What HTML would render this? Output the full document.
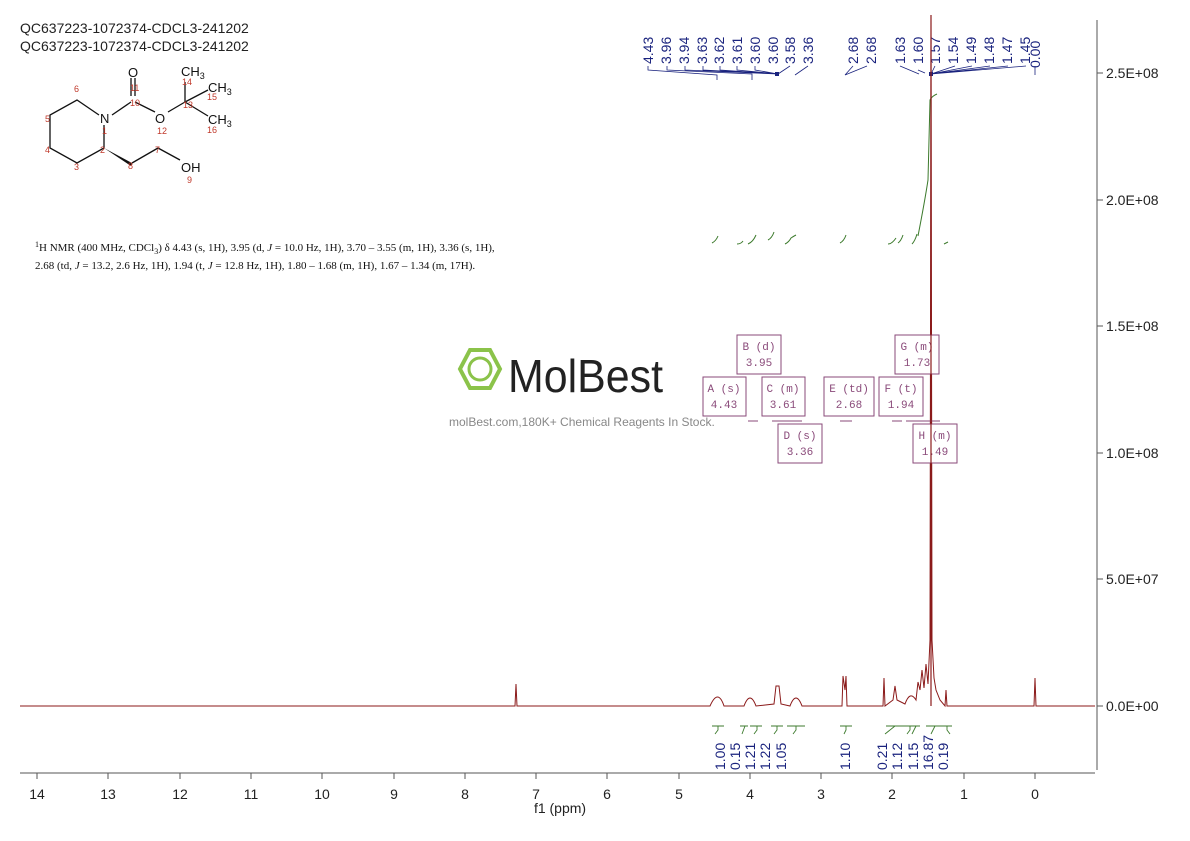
<!DOCTYPE html>
<html><head><meta charset="utf-8"><style>
body{margin:0;background:#fff;}
svg{display:block;font-family:"Liberation Sans",sans-serif;}
.bx{fill:#fff;stroke:#8a4a7a;stroke-width:1}
.bt{font-family:"Liberation Mono",monospace;font-size:11px;fill:#8a4a7a;text-anchor:middle}
.pl{font-size:14px;fill:#1a237e}
.il{font-size:14px;fill:#1a237e}
</style></head><body>
<svg width="1190" height="841" viewBox="0 0 1190 841">
<text x="20" y="33" font-size="14" fill="#222">QC637223-1072374-CDCL3-241202</text>
<text x="20" y="51" font-size="14" fill="#222">QC637223-1072374-CDCL3-241202</text>
<!-- molecule -->
<g stroke="#111" stroke-width="1.3" fill="none">
<polyline points="99,115 77,100 50,115 50,148 77,163 104,148 104,125"/>
<line x1="112" y1="115" x2="131" y2="102"/>
<line x1="131" y1="78" x2="131" y2="96"/><line x1="135" y1="78" x2="135" y2="96"/>
<line x1="135" y1="102" x2="155" y2="112"/>
<line x1="168" y1="112" x2="185" y2="102"/>
<line x1="185" y1="102" x2="185" y2="82"/>
<line x1="185" y1="102" x2="208" y2="90"/>
<line x1="185" y1="102" x2="208" y2="116"/>
<line x1="132" y1="163" x2="158" y2="148"/><line x1="158" y1="148" x2="180" y2="160"/>
</g>
<polygon points="104,148 132,163 131,166" fill="#111"/>
<g font-size="13" fill="#111">
<text x="100" y="123">N</text><text x="128" y="77">O</text><text x="155" y="123">O</text>
<text x="181" y="172">OH</text><text x="181" y="76">CH<tspan font-size="9" dy="3">3</tspan></text>
<text x="208" y="92">CH<tspan font-size="9" dy="3">3</tspan></text><text x="208" y="124">CH<tspan font-size="9" dy="3">3</tspan></text>
</g>
<g font-size="9" fill="#c0392b">
<text x="74" y="92">6</text><text x="45" y="122">5</text><text x="45" y="153">4</text><text x="74" y="170">3</text>
<text x="100" y="153">2</text><text x="102" y="134">1</text><text x="128" y="169">8</text><text x="155" y="153">7</text>
<text x="187" y="183">9</text><text x="130" y="91">11</text><text x="130" y="106">10</text><text x="157" y="134">12</text>
<text x="183" y="108">13</text><text x="182" y="85">14</text><text x="207" y="100">15</text><text x="207" y="133">16</text>
</g>
<text x="35" y="251" font-family="Liberation Serif" font-size="11" fill="#111"><tspan font-size="8" dy="-4">1</tspan><tspan dy="4">H NMR (400 MHz, CDCl</tspan><tspan font-size="8" dy="3">3</tspan><tspan dy="-3">) δ 4.43 (s, 1H), 3.95 (d, </tspan><tspan font-style="italic">J</tspan> = 10.0 Hz, 1H), 3.70 – 3.55 (m, 1H), 3.36 (s, 1H),</text>
<text x="35" y="269" font-family="Liberation Serif" font-size="11" fill="#111">2.68 (td, <tspan font-style="italic">J</tspan> = 13.2, 2.6 Hz, 1H), 1.94 (t, <tspan font-style="italic">J</tspan> = 12.8 Hz, 1H), 1.80 – 1.68 (m, 1H), 1.67 – 1.34 (m, 17H).</text>
<!-- watermark -->
<g stroke="#8bc34a" stroke-width="4" fill="none"><polygon points="470,350 490,350 500,369 490,388 470,388 460,369"/><circle cx="480" cy="369" r="11" stroke-width="3"/></g>
<text x="508" y="392" font-size="46" fill="#222" textLength="155" lengthAdjust="spacingAndGlyphs">MolBest</text>
<text x="449" y="426" font-size="12" fill="#888">molBest.com,180K+ Chemical Reagents In Stock.</text>
<!-- axes -->
<line x1="1097" y1="20" x2="1097" y2="770" stroke="#555"/>
<g stroke="#555"><line x1="1097" y1="73" x2="1103" y2="73"/><line x1="1097" y1="200" x2="1103" y2="200"/><line x1="1097" y1="326" x2="1103" y2="326"/><line x1="1097" y1="453" x2="1103" y2="453"/><line x1="1097" y1="579" x2="1103" y2="579"/><line x1="1097" y1="706" x2="1103" y2="706"/></g>
<g font-size="14" fill="#222"><text x="1106" y="78">2.5E+08</text><text x="1106" y="205">2.0E+08</text><text x="1106" y="331">1.5E+08</text><text x="1106" y="458">1.0E+08</text><text x="1106" y="584">5.0E+07</text><text x="1106" y="711">0.0E+00</text></g>
<line x1="20" y1="773" x2="1095" y2="773" stroke="#555"/>
<g font-size="14" fill="#222" text-anchor="middle">
<text x="37" y="799">14</text><text x="108" y="799">13</text><text x="180" y="799">12</text><text x="251" y="799">11</text><text x="322" y="799">10</text><text x="394" y="799">9</text><text x="465" y="799">8</text><text x="536" y="799">7</text><text x="607" y="799">6</text><text x="679" y="799">5</text><text x="750" y="799">4</text><text x="821" y="799">3</text><text x="892" y="799">2</text><text x="964" y="799">1</text><text x="1035" y="799">0</text>
<text x="560" y="813">f1 (ppm)</text></g>
<g stroke="#555"><line x1="37" y1="773" x2="37" y2="779"/><line x1="108" y1="773" x2="108" y2="779"/><line x1="180" y1="773" x2="180" y2="779"/><line x1="251" y1="773" x2="251" y2="779"/><line x1="322" y1="773" x2="322" y2="779"/><line x1="394" y1="773" x2="394" y2="779"/><line x1="465" y1="773" x2="465" y2="779"/><line x1="536" y1="773" x2="536" y2="779"/><line x1="607" y1="773" x2="607" y2="779"/><line x1="679" y1="773" x2="679" y2="779"/><line x1="750" y1="773" x2="750" y2="779"/><line x1="821" y1="773" x2="821" y2="779"/><line x1="892" y1="773" x2="892" y2="779"/><line x1="964" y1="773" x2="964" y2="779"/><line x1="1035" y1="773" x2="1035" y2="779"/></g>
<!-- spectrum -->
<path d="M20,706 L515,706 L516,684 L517,706 L710,706 Q718,688 724,706 L744,706 Q750,690 756,706 L774,704 L776,686 L779,686 L781,704 L790,706 Q796,690 802,706 L842,706 L843,676 L845,690 L846,676 L847,706 L883,706 L884,678 L885,706 L893,700 L895,686 L897,700 L905,704 Q910,690 916,700 L918,682 L920,690 L922,670 L924,688 L926,664 L928,684 L930,640 L931,20 L932,640 L934,678 L936,690 L940,700 L945,706 L946,690 L947,706 L1034,706 L1035,678 L1036,706 L1095,706" fill="none" stroke="#8b1a1a" stroke-width="1"/>
<!-- integrals top curves -->
<g stroke="#3c7a2c" fill="none" stroke-width="1">
<path d="M712,243 q4,-2 6,-7"/><path d="M737,244 q4,0 6,-3"/><path d="M748,244 q5,-2 8,-9"/><path d="M768,240 q4,-2 6,-8"/><path d="M785,244 q4,-2 6,-6 q3,-2 5,-3"/><path d="M840,243 q4,-2 6,-8"/><path d="M888,244 q4,0 8,-6"/><path d="M898,243 q3,-2 5,-8"/><path d="M912,244 q3,-3 5,-10"/><path d="M918,236 Q925,200 928,180 L930,100 Q932,96 937,94"/><path d="M944,244 q2,-1 4,-2"/>
</g>
<!-- peak labels -->
<g stroke="#1a237e" fill="none" stroke-width="0.8">
<polyline points="648,66 648,70 717,75 717,80"/><polyline points="667,66 667,70 752,74 752,80"/>
<path d="M685,66 L685,70 L778,74 M703,66 L703,70 L778,74 M720,66 L720,70 L778,74 M737,66 L737,70 L778,74 M755,66 L755,70 L778,74 M778,74 L790,66 M795,75 L808,66"/>
<path d="M845,75 L853,66 M845,75 L867,66 M919,74 L900,66 M925,73 L918,70 M931,74 L935,66 M931,74 L955,66 M931,74 L972,66 M931,74 L990,66 M931,74 L1008,66 M931,74 L1026,66 M1035,75 L1035,66"/>
</g>
<rect x="775" y="72" width="4" height="4" fill="#1a237e"/>
<rect x="929" y="72" width="4" height="4" fill="#1a237e"/>
<g class="pl">
<text transform="translate(653,64) rotate(-90)">4.43</text><text transform="translate(671,64) rotate(-90)">3.96</text><text transform="translate(689,64) rotate(-90)">3.94</text><text transform="translate(707,64) rotate(-90)">3.63</text><text transform="translate(724,64) rotate(-90)">3.62</text><text transform="translate(742,64) rotate(-90)">3.61</text><text transform="translate(760,64) rotate(-90)">3.60</text><text transform="translate(778,64) rotate(-90)">3.60</text><text transform="translate(795,64) rotate(-90)">3.58</text><text transform="translate(813,64) rotate(-90)">3.36</text>
<text transform="translate(858,64) rotate(-90)">2.68</text><text transform="translate(876,64) rotate(-90)">2.68</text>
<text transform="translate(905,64) rotate(-90)">1.63</text><text transform="translate(923,64) rotate(-90)">1.60</text><text transform="translate(940,64) rotate(-90)">1.57</text><text transform="translate(958,64) rotate(-90)">1.54</text><text transform="translate(976,64) rotate(-90)">1.49</text><text transform="translate(994,64) rotate(-90)">1.48</text><text transform="translate(1012,64) rotate(-90)">1.47</text><text transform="translate(1030,64) rotate(-90)">1.45</text><text transform="translate(1040,68) rotate(-90)">0.00</text>
</g>
<!-- multiplet boxes -->
<g>
<rect class="bx" x="737" y="335" width="44" height="39"/><text class="bt" x="759" y="350">B (d)</text><text class="bt" x="759" y="366">3.95</text>
<rect class="bx" x="703" y="377" width="43" height="39"/><text class="bt" x="724" y="392">A (s)</text><text class="bt" x="724" y="408">4.43</text>
<rect class="bx" x="762" y="377" width="43" height="39"/><text class="bt" x="783" y="392">C (m)</text><text class="bt" x="783" y="408">3.61</text>
<rect class="bx" x="824" y="377" width="50" height="39"/><text class="bt" x="849" y="392">E (td)</text><text class="bt" x="849" y="408">2.68</text>
<rect class="bx" x="879" y="377" width="44" height="39"/><text class="bt" x="901" y="392">F (t)</text><text class="bt" x="901" y="408">1.94</text>
<rect class="bx" x="895" y="335" width="44" height="39"/><text class="bt" x="917" y="350">G (m)</text><text class="bt" x="917" y="366">1.73</text>
<rect class="bx" x="778" y="424" width="44" height="39"/><text class="bt" x="800" y="439">D (s)</text><text class="bt" x="800" y="455">3.36</text>
<rect class="bx" x="913" y="424" width="44" height="39"/><text class="bt" x="935" y="439">H (m)</text><text class="bt" x="935" y="455">1.49</text>
</g>
<g stroke="#8a4a7a" stroke-width="1"><path d="M748,421 h10 M772,421 h10 M782,421 h10 M792,421 h10 M840,421 h12 M892,421 h10 M906,421 h10 M916,421 h24"/></g>
<line x1="931" y1="15" x2="931" y2="706" stroke="#8b1a1a" stroke-width="1.2"/>
<!-- bottom integrals -->
<g stroke="#3c7a2c" fill="none" stroke-width="0.9">
<path d="M712,726 h12 M740,726 h8 M750,726 h12 M771,726 h12 M787,726 h18 M840,726 h12 M886,726 h28 M908,726 h12 M926,726 h24 M944,726 h8"/>
<path d="M718,726 v4 l-3,4 M745,726 l-3,8 M757,726 v4 l-3,4 M777,726 v4 l-3,4 M796,726 v4 l-3,4 M846,726 v4 l-2,4 M895,726 l-10,8 M910,726 v4 l-3,4 M916,726 l-4,8 M935,726 l-4,8 M947,726 v4 l3,4"/>
</g>
<g class="il">
<text transform="translate(725,770) rotate(-90)">1.00</text><text transform="translate(740,770) rotate(-90)">0.15</text><text transform="translate(755,770) rotate(-90)">1.21</text><text transform="translate(770,770) rotate(-90)">1.22</text><text transform="translate(786,770) rotate(-90)">1.05</text><text transform="translate(850,770) rotate(-90)">1.10</text><text transform="translate(887,770) rotate(-90)">0.21</text><text transform="translate(902,770) rotate(-90)">1.12</text><text transform="translate(918,770) rotate(-90)">1.15</text><text transform="translate(933,770) rotate(-90)">16.87</text><text transform="translate(948,770) rotate(-90)">0.19</text>
</g>
</svg>
</body></html>
